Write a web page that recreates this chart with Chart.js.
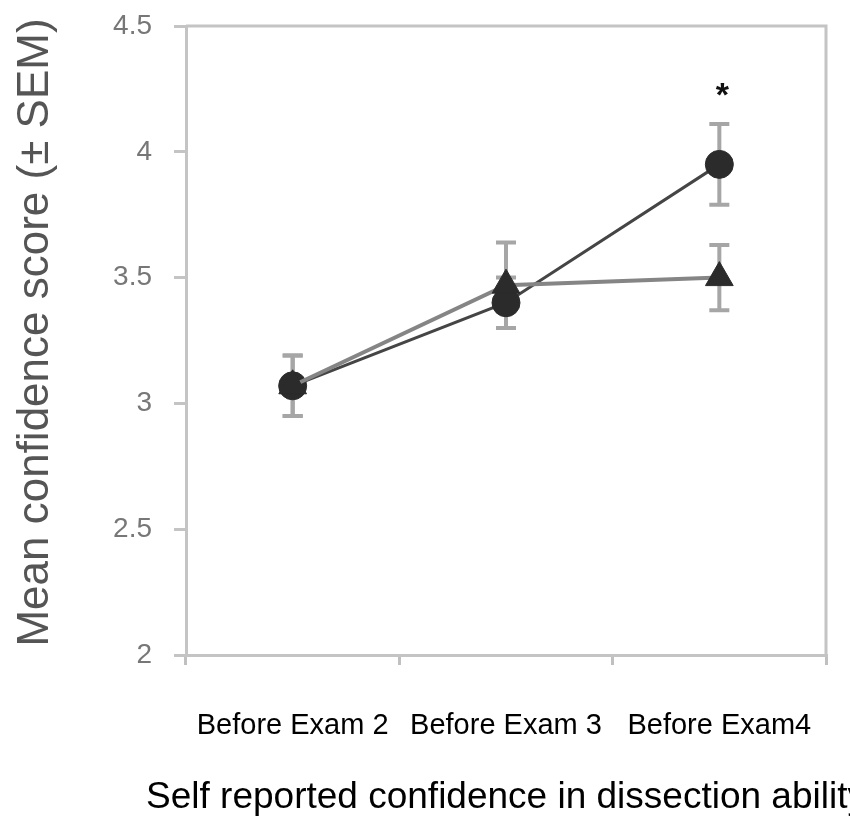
<!DOCTYPE html>
<html>
<head>
<meta charset="utf-8">
<script src="https://cdn.jsdelivr.net/npm/chart.js@4/dist/chart.umd.min.js"></script>
<style>
  body { margin: 0; background: #fff; }
  canvas { display: block; }
</style>
</head>
<body>
<canvas id="confidenceChart" width="850" height="818"></canvas>
<script>
const categories = ['Before Exam 2', 'Before Exam 3', 'Before Exam4']

// circle series and its SEM
const circleMeans = [3.07, 3.40, 3.95]
const circleSem = [0.12, 0.10, 0.16]

// triangle series and its SEM
const triangleMeans = [3.07, 3.47, 3.50]
const triangleSem = [0.12, 0.17, 0.13]

const yTicks = [2, 2.5, 3, 3.5, 4, 4.5]

// significance marker
const starCategory = 'Before Exam4'
const starValue = 4.22

const xTitle = 'Self reported confidence in dissection ability'
const yTitle = 'Mean confidence score (± SEM)'

const fontFamily = '"Liberation Sans", Arial, sans-serif'

// draws the ± SEM bars behind the markers
const errorBarPlugin = {
  id: 'errorBars',
  beforeDatasetsDraw(chart) {
    const ctx = chart.ctx
    const x = chart.scales.x
    const y = chart.scales.y
    ctx.save()
    ctx.strokeStyle = '#a6a6a6'
    ctx.lineWidth = 4
    chart.data.datasets.forEach(ds => {
      ds.data.forEach((v, i) => {
        const px = x.getPixelForValue(i)
        const top = y.getPixelForValue(v + ds.sem[i])
        const bottom = y.getPixelForValue(v - ds.sem[i])
        ctx.beginPath()
        ctx.moveTo(px, top)
        ctx.lineTo(px, bottom)
        ctx.moveTo(px - 10, top)
        ctx.lineTo(px + 10, top)
        ctx.moveTo(px - 10, bottom)
        ctx.lineTo(px + 10, bottom)
        ctx.stroke()
      })
    })
    ctx.restore()
  },
  afterDraw(chart) {
    const ctx = chart.ctx
    const area = chart.chartArea
    ctx.save()
    // top and right edges of the frame
    ctx.strokeStyle = '#c4c4c4'
    ctx.lineWidth = 3
    ctx.beginPath()
    ctx.moveTo(area.left, area.top)
    ctx.lineTo(area.right, area.top)
    ctx.lineTo(area.right, area.bottom)
    ctx.stroke()

    // asterisk
    const sx = chart.scales.x.getPixelForValue(categories.indexOf(starCategory))
    const sy = chart.scales.y.getPixelForValue(starValue)
    ctx.fillStyle = '#111'
    ctx.font = 'bold 34px ' + fontFamily
    ctx.textAlign = 'center'
    ctx.textBaseline = 'middle'
    ctx.fillText('*', sx + 3, sy)

    // x title is wider than the plot, so draw it without squeezing
    ctx.fillStyle = '#000'
    ctx.font = '37px ' + fontFamily
    ctx.fillText(xTitle, (area.left + area.right) / 2, chart.height - 20)

    // y title
    ctx.translate(36, (area.top + area.bottom) / 2 - 8)
    ctx.rotate(-Math.PI / 2)
    ctx.fillStyle = '#555'
    ctx.font = '44px ' + fontFamily
    ctx.fillText(yTitle, 0, 0)
    ctx.restore()
  },
}

const ctx = document.getElementById('confidenceChart').getContext('2d')

new Chart(ctx, {
  type: 'line',
  data: {
    labels: categories,
    datasets: [
      {
        label: 'Triangle',
        data: triangleMeans,
        sem: triangleSem,
        borderColor: '#858585',
        borderWidth: 4,
        pointStyle: 'triangle',
        pointRadius: 16,
        pointBackgroundColor: '#2b2b2b',
        pointBorderColor: '#2b2b2b',
        pointBorderWidth: 1,
        fill: false,
      },
      {
        label: 'Circle',
        data: circleMeans,
        sem: circleSem,
        borderColor: '#454545',
        borderWidth: 3,
        pointStyle: 'circle',
        pointRadius: 14,
        pointBackgroundColor: '#2b2b2b',
        pointBorderColor: '#2b2b2b',
        pointBorderWidth: 1,
        fill: false,
      },
    ],
  },
  options: {
    responsive: false,
    animation: false,
    layout: {
      autoPadding: false,
      padding: { top: 26, right: 24, left: 0, bottom: 0 },
    },
    plugins: {
      legend: { display: false },
      tooltip: { enabled: false },
    },
    scales: {
      x: {
        offset: true,
        grid: {
          offset: true,
          drawOnChartArea: false,
          tickLength: 10,
          color: '#c0c0c0',
          lineWidth: 3,
        },
        border: { color: '#c4c4c4', width: 3 },
        ticks: {
          color: '#000',
          padding: 44,
          maxRotation: 0,
          font: { family: fontFamily, size: 29 },
        },
        afterFit(scale) {
          scale.height = 163
          scale.paddingLeft = 0
          scale.paddingRight = 0
        },
      },
      y: {
        min: 2,
        max: 4.5,
        afterBuildTicks(scale) {
          scale.ticks = yTicks.map(v => ({ value: v }))
        },
        grid: {
          drawOnChartArea: false,
          tickLength: 12,
          color: '#c4c4c4',
          lineWidth: 3,
        },
        border: { color: '#c4c4c4', width: 3 },
        ticks: {
          color: '#777',
          padding: 22,
          font: { family: fontFamily, size: 28 },
          callback: v => String(v),
        },
        afterFit(scale) {
          scale.width = 186
          scale.paddingTop = 0
          scale.paddingBottom = 0
        },
      },
    },
  },
  plugins: [errorBarPlugin],
})
</script>
</body>
</html>
